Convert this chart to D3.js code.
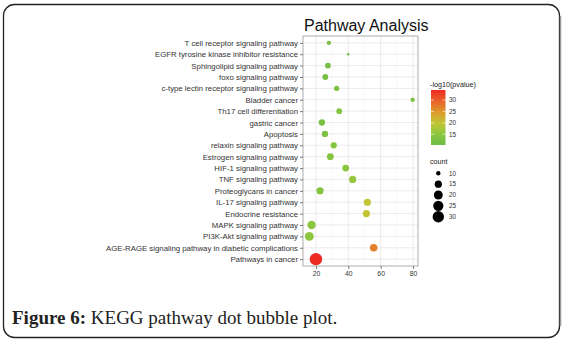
<!DOCTYPE html>
<html>
<head>
<meta charset="utf-8">
<script src="https://cdn.jsdelivr.net/npm/d3@7"></script>
<style>
  html, body { margin: 0; padding: 0; background: #fff; }
  svg { display: block; }
</style>
</head>
<body>
<div id="chart"></div>
<script>
// pathways, top to bottom as drawn
const pathways = [
  "T cell receptor signaling pathway",
  "EGFR tyrosine kinase inhibitor resistance",
  "Sphingolipid signaling pathway",
  "foxo signaling pathway",
  "c-type lectin receptor signaling pathway",
  "Bladder cancer",
  "Th17 cell differentiation",
  "gastric cancer",
  "Apoptosis",
  "relaxin signaling pathway",
  "Estrogen signaling pathway",
  "HIF-1 signaling pathway",
  "TNF signaling pathway",
  "Proteoglycans in cancer",
  "IL-17 signaling pathway",
  "Endocrine resistance",
  "MAPK signaling pathway",
  "PI3K-Akt signaling pathway",
  "AGE-RAGE signaling pathway in diabetic complications",
  "Pathways in cancer"
];
const xValues = [28, 40, 27.4, 25.8, 32.8, 79.8, 34.4, 23.7, 25.6, 31, 28.9, 38.4, 42.7, 22.5, 51.8, 51.2, 17.3, 15.9, 55.7, 20];
const counts  = [10, 9, 12, 12, 11, 10, 12, 13, 13, 13, 14, 14, 15, 15, 15, 15, 18, 20, 16, 35];
const logP    = [12, 10.3, 12, 12, 13, 12.5, 13.5, 12, 12.5, 14, 14, 15, 16, 14, 20, 20, 15, 15, 27, 34.4];

const xTicks = [20, 40, 60, 80];
const colorTicks = [15, 20, 25, 30];
const sizeTicks = [10, 15, 20, 25, 30];
// gradient colours, low to high
const colorStops = ["#6bbd45", "#8dc63f", "#c2c536", "#dd9a2b", "#e9612a", "#ee2a24"];

const width = 564, height = 340;
const panel = {left: 303, right: 418, top: 36, bottom: 266};

const svg = d3.select("#chart").append("svg")
  .attr("width", width)
  .attr("height", height)
  .attr("viewBox", [0, 0, width, height]);

// outer card frame
svg.append("rect")
  .attr("x", 3.5).attr("y", 4.5)
  .attr("width", 556).attr("height", 333)
  .attr("rx", 11)
  .attr("fill", "none")
  .attr("stroke", "#222")
  .attr("stroke-width", 1.3);
svg.append("line")
  .attr("x1", 560.5).attr("x2", 560.5)
  .attr("y1", 16).attr("y2", 326)
  .attr("stroke", "#999").attr("stroke-width", 1.5);

// scales
const x = d3.scaleLinear().domain([12, 83.1]).range([panel.left, panel.right]);
const y = d3.scalePoint().domain(pathways).range([panel.top, panel.bottom]).padding(0.6);

const lo = d3.min(logP), hi = d3.max(logP);
const color = d3.scaleLinear()
  .domain(colorStops.map((c, i) => lo + (hi - lo) * i / (colorStops.length - 1)))
  .range(colorStops);

const cMin = d3.min(counts), cMax = d3.max(counts);
const rScale = d3.scaleSqrt().domain([0, cMax - cMin]).range([1.2, 6.2]);
const radius = v => rScale(v - cMin);

// grid
const grid = svg.append("g");
const minor = d3.range(10, 90, 20).filter(v => v > 12 && v < 83);
grid.selectAll("line.minor").data(minor).join("line")
  .attr("x1", d => x(d)).attr("x2", d => x(d))
  .attr("y1", panel.top).attr("y2", panel.bottom)
  .attr("stroke", "#f0f0f0").attr("stroke-width", 0.5);
grid.selectAll("line.vmaj").data(xTicks).join("line")
  .attr("x1", d => x(d)).attr("x2", d => x(d))
  .attr("y1", panel.top).attr("y2", panel.bottom)
  .attr("stroke", "#e6e6e6").attr("stroke-width", 0.8);
grid.selectAll("line.hmaj").data(pathways).join("line")
  .attr("x1", panel.left).attr("x2", panel.right)
  .attr("y1", d => y(d)).attr("y2", d => y(d))
  .attr("stroke", "#e6e6e6").attr("stroke-width", 0.8);

svg.append("rect")
  .attr("x", panel.left).attr("y", panel.top)
  .attr("width", panel.right - panel.left)
  .attr("height", panel.bottom - panel.top)
  .attr("fill", "none").attr("stroke", "#9a9a9a").attr("stroke-width", 0.8);

// axes
const yAxis = svg.append("g")
  .attr("transform", `translate(${panel.left},0)`)
  .call(d3.axisLeft(y).tickSize(3).tickPadding(2));
const xAxis = svg.append("g")
  .attr("transform", `translate(0,${panel.bottom})`)
  .call(d3.axisBottom(x).tickValues(xTicks).tickSize(3).tickPadding(2));
[yAxis, xAxis].forEach(a => {
  a.select(".domain").remove();
  a.selectAll(".tick line").attr("stroke", "#444").attr("stroke-width", 0.7);
  a.selectAll(".tick text")
    .attr("fill", "#333")
    .style("font-family", "Liberation Sans, Arial, sans-serif");
});
yAxis.selectAll(".tick text").style("font-size", "7.8px");
xAxis.selectAll(".tick text").style("font-size", "6.8px");

// dots
svg.append("g").selectAll("circle").data(pathways).join("circle")
  .attr("cx", (d, i) => x(xValues[i]))
  .attr("cy", d => y(d))
  .attr("r", (d, i) => radius(counts[i]))
  .attr("fill", (d, i) => color(logP[i]));

// title
svg.append("text")
  .attr("x", 304).attr("y", 30.5)
  .style("font-family", "Liberation Sans, Arial, sans-serif")
  .style("font-size", "16px")
  .attr("fill", "#111")
  .text("Pathway Analysis");

// colour legend
const lg = svg.append("g").style("font-family", "Liberation Sans, Arial, sans-serif");
lg.append("text").attr("x", 430).attr("y", 87)
  .style("font-size", "7.2px").attr("fill", "#222").text("-log10(pvalue)");

const barTop = 90, barBottom = 145, barX = 431, barW = 14.5;
const cy = d3.scaleLinear().domain([lo, hi]).range([barBottom, barTop]);
const grad = svg.append("defs").append("linearGradient")
  .attr("id", "cbar").attr("x1", 0).attr("x2", 0).attr("y1", 1).attr("y2", 0);
grad.selectAll("stop").data(d3.range(0, 1.001, 0.05)).join("stop")
  .attr("offset", d => d)
  .attr("stop-color", d => color(lo + d * (hi - lo)));
lg.append("rect").attr("x", barX).attr("y", barTop)
  .attr("width", barW).attr("height", barBottom - barTop)
  .attr("fill", "url(#cbar)");
lg.selectAll("line.tl").data(colorTicks).join("line")
  .attr("x1", barX).attr("x2", barX + 3)
  .attr("y1", d => cy(d)).attr("y2", d => cy(d))
  .attr("stroke", "#fff").attr("stroke-width", 0.6);
lg.selectAll("line.tr").data(colorTicks).join("line")
  .attr("x1", barX + barW - 3).attr("x2", barX + barW)
  .attr("y1", d => cy(d)).attr("y2", d => cy(d))
  .attr("stroke", "#fff").attr("stroke-width", 0.6);
lg.selectAll("text.cl").data(colorTicks).join("text")
  .attr("x", 449).attr("y", d => cy(d)).attr("dy", "0.35em")
  .style("font-size", "6.4px").attr("fill", "#333")
  .text(d => d);

// size legend
lg.append("text").attr("x", 430).attr("y", 164)
  .style("font-size", "7.2px").attr("fill", "#222").text("count");
const sy = d3.scalePoint().domain(sizeTicks).range([173.3, 216.7]);
lg.selectAll("circle").data(sizeTicks).join("circle")
  .attr("cx", 438.3).attr("cy", d => sy(d))
  .attr("r", d => radius(d)).attr("fill", "#000");
lg.selectAll("text.sl").data(sizeTicks).join("text")
  .attr("x", 449).attr("y", d => sy(d)).attr("dy", "0.35em")
  .style("font-size", "6.4px").attr("fill", "#333")
  .text(d => d);

// caption
const cap = svg.append("text")
  .attr("x", 12).attr("y", 324)
  .style("font-family", "Liberation Serif, Times New Roman, serif")
  .style("font-size", "19px")
  .attr("fill", "#222");
cap.append("tspan").style("font-weight", "bold").text("Figure 6:");
cap.append("tspan").text(" KEGG pathway dot bubble plot.");
</script>
</body>
</html>
